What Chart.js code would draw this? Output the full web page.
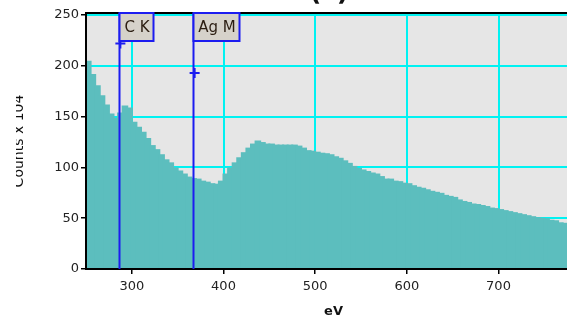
<!DOCTYPE html>
<html>
<head>
<meta charset="utf-8">
<script src="https://cdn.jsdelivr.net/npm/chart.js@4/dist/chart.umd.min.js"></script>
<style>
  html, body { margin: 0; padding: 0; background: #fff; overflow: hidden; }
  #wrap { position: relative; width: 600px; height: 325px; }
</style>
</head>
<body>
<div id="wrap"><canvas id="spectrum" width="600" height="325"></canvas></div>
<script>
// channel start energies (eV), 5 eV per channel
const energies = [
  250, 255, 260, 265, 270, 275, 280, 285, 290, 295,
  300, 305, 310, 315, 320, 325, 330, 335, 340, 345,
  350, 355, 360, 365, 370, 375, 380, 385, 390, 395,
  400, 405, 410, 415, 420, 425, 430, 435, 440, 445,
  450, 455, 460, 465, 470, 475, 480, 485, 490, 495,
  500, 505, 510, 515, 520, 525, 530, 535, 540, 545,
  550, 555, 560, 565, 570, 575, 580, 585, 590, 595,
  600, 605, 610, 615, 620, 625, 630, 635, 640, 645,
  650, 655, 660, 665, 670, 675, 680, 685, 690, 695,
  700, 705, 710, 715, 720, 725, 730, 735, 740, 745,
  750, 755, 760, 765, 770
];
const binWidth = 5;

// counts x 10^4 per channel
const counts = [
  204, 191, 180, 170, 161, 152, 148, 153, 160, 158,
  144, 139, 134, 128, 121, 117, 112, 107, 104, 99,
  96, 93, 90, 88.5, 88, 86, 85, 83.5, 83, 86,
  93, 99, 104, 109, 114, 118.5, 122.5, 125.5, 124, 122.5,
  122.5, 121.5, 121.5, 121.5, 121.5, 121.5, 120.5, 118.5, 116, 115.5,
  114.5, 113.5, 113, 112, 110, 108.5, 106, 103.5, 100.5, 98.5,
  97, 95.5, 94, 93, 90.5, 88, 88, 86, 85.5, 84,
  83.5, 81.5, 80, 79, 77.5, 76, 75, 74, 72, 71,
  70, 67.5, 66, 65, 63.5, 63, 62, 61, 59.5, 59,
  58, 57, 56, 55, 54, 53, 52, 51, 50, 49.5,
  49, 47.5, 47, 45, 44.5
];

// element line markers
const markerNames = ['C K', 'Ag M'];
const markerEnergy = [286, 367];
const markerCounts = [222, 193];

const xTicks = [300, 400, 500, 600, 700];
const yTicks = [0, 50, 100, 150, 200, 250];

const BLUE = '#1c1cf0';
const GRID = '#00f2f2';

const specPlugin = {
  id: 'specDecor',
  // grey panel and cyan grid, underneath the spectrum
  beforeDatasetsDraw(chart) {
    const { ctx, chartArea: a, scales } = chart;
    ctx.save();
    ctx.fillStyle = '#e6e6e6';
    ctx.fillRect(a.left, a.top, a.right - a.left, a.bottom - a.top);
    ctx.strokeStyle = GRID;
    ctx.lineWidth = 2;
    ctx.beginPath();
    scales.x.ticks.forEach(t => {
      const x = Math.round(scales.x.getPixelForValue(t.value));
      ctx.moveTo(x, a.top);
      ctx.lineTo(x, a.bottom);
    });
    scales.y.ticks.forEach(t => {
      const y = Math.round(scales.y.getPixelForValue(t.value));
      ctx.moveTo(a.left, y);
      ctx.lineTo(a.right, y);
    });
    ctx.stroke();
    ctx.restore();
  },
  afterDatasetsDraw(chart) {
    const { ctx, chartArea: a, scales } = chart;
    ctx.save();
    // frame
    ctx.strokeStyle = '#000';
    ctx.lineWidth = 2;
    ctx.beginPath();
    ctx.moveTo(a.right + 2, a.top);
    ctx.lineTo(a.left, a.top);
    ctx.lineTo(a.left, a.bottom);
    ctx.lineTo(a.right + 2, a.bottom);
    ctx.stroke();

    // marker lines and labels
    ctx.font = '15px "DejaVu Sans"';
    ctx.textBaseline = 'middle';
    ctx.textAlign = 'center';
    markerNames.forEach((name, i) => {
      const x = Math.round(scales.x.getPixelForValue(markerEnergy[i])) + 0.5;
      ctx.strokeStyle = BLUE;
      ctx.lineWidth = 2;
      ctx.beginPath();
      ctx.moveTo(x, a.top);
      ctx.lineTo(x, a.bottom);
      ctx.stroke();

      const w = Math.round(ctx.measureText(name).width) + 9;
      const h = 28;
      ctx.fillStyle = '#d6d2ca';
      ctx.fillRect(x, a.top, w, h);
      ctx.strokeRect(x, a.top, w, h);
      ctx.fillStyle = '#2a1c10';
      ctx.fillText(name, x + w / 2 + 0.5, a.top + h / 2 + 1);
    });

    ctx.restore();
  },
  afterDraw(chart) {
    const { ctx } = chart;
    ctx.save();
    // the left edge of the axis caption is cut off
    ctx.fillStyle = '#fff';
    ctx.fillRect(0, 0, 16, chart.height);
    // panel title, mostly above the frame
    ctx.fillStyle = '#111';
    ctx.font = 'bold 26px "DejaVu Sans"';
    ctx.textAlign = 'center';
    ctx.textBaseline = 'alphabetic';
    ctx.fillText('(c)', 329, 0);
    ctx.restore();
  }
};

const ctx = document.getElementById('spectrum').getContext('2d');

new Chart(ctx, {
  type: 'bar',
  data: {
    datasets: [
      {
        label: 'spectrum',
        data: energies.map((e, i) => ({ x: e + binWidth / 2, y: counts[i] })),
        backgroundColor: '#5cbebe',
        borderWidth: 0,
        barPercentage: 1,
        categoryPercentage: 1,
        inflateAmount: 1,
        order: 2
      },
      {
        type: 'scatter',
        label: 'markers',
        data: markerEnergy.map((e, i) => ({ x: e + 1.5, y: markerCounts[i] })),
        pointStyle: 'cross',
        radius: 5,
        borderWidth: 2,
        borderColor: BLUE,
        order: 1
      }
    ]
  },
  options: {
    responsive: false,
    animation: false,
    devicePixelRatio: 1,
    layout: { padding: { top: 13, right: 19, bottom: 0, left: 0 } },
    plugins: {
      legend: { display: false },
      tooltip: { enabled: false }
    },
    scales: {
      x: {
        type: 'linear',
        min: 250,
        max: 790,
        offset: false,
        afterBuildTicks: (scale) => { scale.ticks = xTicks.map(v => ({ value: v })); },
        afterFit: (scale) => { scale.height = 56; },
        grid: {
          offset: false,
          drawOnChartArea: false,
          color: '#000',
          lineWidth: 1.5,
          tickLength: 5
        },
        border: { display: false },
        ticks: {
          color: '#222',
          font: { family: 'DejaVu Sans', size: 13 },
          padding: 5,
          maxRotation: 0
        },
        title: {
          display: true,
          text: 'eV',
          color: '#111',
          font: { family: 'DejaVu Sans', size: 13, weight: 'bold' },
          padding: { top: 0, bottom: 6 }
        }
      },
      y: {
        min: 0,
        max: 252,
        afterBuildTicks: (scale) => { scale.ticks = yTicks.map(v => ({ value: v })); },
        afterFit: (scale) => { scale.width = 86; },
        grid: {
          drawOnChartArea: false,
          color: '#000',
          lineWidth: 1.5,
          tickLength: 5
        },
        border: { display: false },
        ticks: {
          color: '#222',
          font: { family: 'DejaVu Sans', size: 13 },
          padding: 2
        },
        title: {
          display: true,
          text: 'Counts x 104',
          color: '#111',
          font: { family: 'DejaVu Sans', size: 14 },
          padding: { top: 11, bottom: 0 }
        }
      }
    }
  },
  plugins: [specPlugin]
});
</script>
</body>
</html>
